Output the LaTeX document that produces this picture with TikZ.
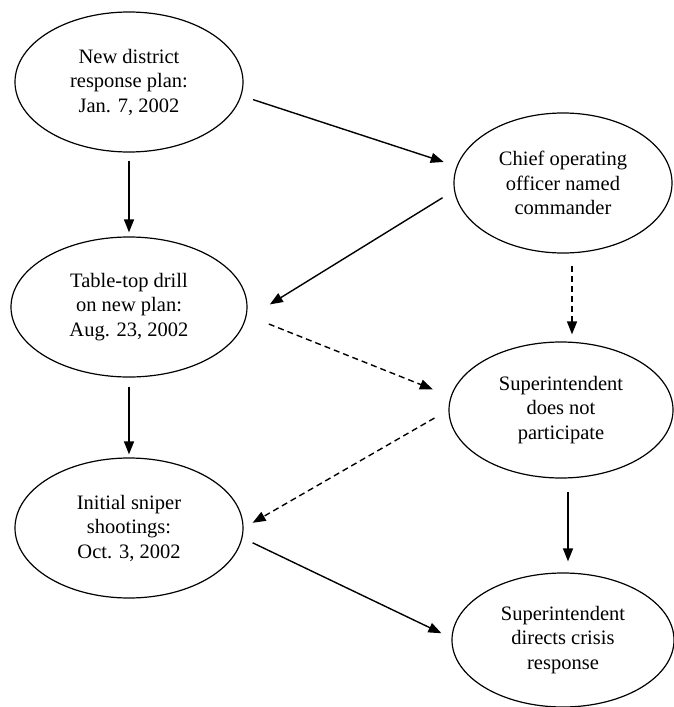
\documentclass[tikz,border=0pt]{standalone}
\usepackage{fontspec}
\setmainfont{Liberation Serif}
\usetikzlibrary{shapes.geometric,arrows.meta}

\tikzset{
  event/.style={ellipse, draw, line width=1.2pt, inner sep=0pt, align=center,
    font=\fontsize{20.5}{24.5}\selectfont},
  flow/.style={line width=1.4pt, -{Triangle[length=13pt,width=10pt]}},
  maybe/.style={flow, dash pattern=on 6pt off 4pt},
}

\begin{document}
\begin{tikzpicture}[x=1pt, y=-1pt]
  \useasboundingbox (0,0) rectangle (674,707);

  % left column: timeline of district events
  \node[event, minimum width=228pt, minimum height=140pt] (plan)  at (129,82)
    {New district\\response plan:\\Jan. 7, 2002};
  \node[event, minimum width=236pt, minimum height=140pt] (drill) at (129,307)
    {Table-top drill\\on new plan:\\Aug. 23, 2002};
  \node[event, minimum width=228pt, minimum height=140pt] (shoot) at (129,528)
    {Initial sniper\\shootings:\\Oct. 3, 2002};

  % right column: who is in command
  \node[event, minimum width=218pt, minimum height=140pt] (coo)    at (563,183)
    {Chief operating\\officer named\\commander};
  \node[event, minimum width=224pt, minimum height=136pt] (absent) at (561,410)
    {Superintendent\\does not\\participate};
  \node[event, minimum width=222pt, minimum height=134pt] (super)  at (563,640)
    {Superintendent\\directs crisis\\response};

  % solid connectors
  \draw[flow, shorten <=8pt, shorten >=4pt] (plan.south) -- (drill.north);
  \draw[flow, shorten <=9pt, shorten >=3pt] (drill.south) -- (shoot.north);
  \draw[flow, shorten <=12.3pt, shorten >=13.5pt] (plan.-7.8) -- (coo.171.5);
  \draw[flow, shorten <=13.5pt, shorten >=28.3pt] (coo.-176.4) -- (drill.-6.4);
  \draw[flow, shorten <=13pt, shorten >=11pt]
    ([xshift=7pt]absent.south) -- ([xshift=5pt]super.north);
  \draw[flow, shorten <=11.3pt, shorten >=11.1pt] (shoot.-5.1) -- (super.179.4);

  % dashed connectors
  \draw[maybe, shorten <=12pt, shorten >=7pt]
    ([xshift=9pt]coo.south) -- ([xshift=11pt]absent.north);
  \draw[maybe, shorten <=23.7pt, shorten >=19.1pt] (drill.-4.5) -- (absent.173.8);
  \draw[maybe, shorten <=16.1pt, shorten >=10.4pt] (absent.180) -- (shoot.0.45);
\end{tikzpicture}
\end{document}
